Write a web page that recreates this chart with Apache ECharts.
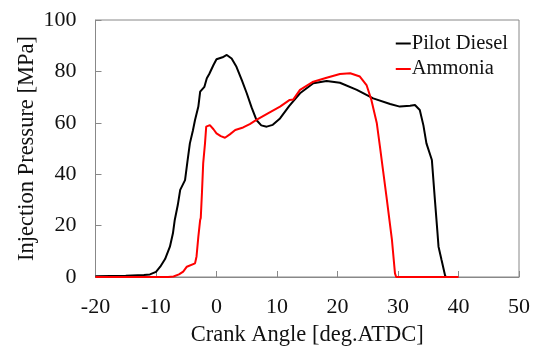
<!DOCTYPE html>
<html>
<head>
<meta charset="utf-8">
<script src="https://cdn.jsdelivr.net/npm/echarts@6/dist/echarts.min.js"></script>
<style>html,body{margin:0;padding:0;background:#fff}#c{width:538px;height:347px}</style>
</head>
<body>
<div id="c"></div>
<script>
const seriesNames = ['Pilot Diesel', 'Ammonia'];
const xTicks = [-20, -10, 0, 10, 20, 30, 40, 50];
const yTicks = [0, 20, 40, 60, 80, 100];
const pilotDiesel = [[-20,0.3],[-15,0.5],[-12,0.8],[-11,1.0],[-10,2],[-9.3,4],[-8.5,7],[-7.7,11.8],[-7.2,17],[-6.9,22.2],[-6.4,28],[-6.0,33.9],[-5.2,37.7],[-4.8,45],[-4.4,52],[-3.9,57],[-3.55,61.1],[-3.0,66.3],[-2.7,72.1],[-2.0,74],[-1.6,77.3],[-1.2,79],[-0.5,82.5],[0,84.7],[1.0,85.5],[1.7,86.4],[2.5,85],[3.3,81.8],[4.2,76.5],[5.0,71.5],[5.8,66],[6.6,61.1],[7.4,59],[8.3,58.5],[9.3,59.2],[10.5,61.7],[12,66.5],[13.8,71.5],[16.0,75.4],[18.2,76.3],[20.4,75.6],[23.2,72.8],[25.9,69.5],[28.7,67.3],[30.3,66.3],[32,66.6],[32.8,66.9],[33.6,65],[34.2,59],[34.7,52],[35.6,45.5],[36.1,30],[36.5,18],[36.7,11.8],[37.2,6.6],[37.8,0.4],[38,0]];
const ammonia = [[-20,0],[-8,0],[-7.1,0.2],[-6.2,1],[-5.5,2.1],[-4.9,4],[-3.55,5.3],[-3.3,8],[-3.0,15.7],[-2.7,22.2],[-2.6,23],[-2.4,33],[-2.2,44.2],[-1.9,52],[-1.7,58.5],[-1.1,59.1],[-0.5,57.5],[0,55.9],[0.7,54.8],[1.4,54.2],[2.2,55.5],[3.1,57.2],[4.4,58.2],[5.5,59.5],[6.6,61.1],[8.5,63.7],[10.5,66.3],[12.1,68.9],[12.7,69.1],[13.8,72.8],[16.0,76],[18.2,77.5],[20.4,79],[22.1,79.3],[23.7,78],[24.8,74.7],[25.6,68.9],[26.5,59.8],[27.0,51],[27.5,42],[28.1,31.2],[29.0,14.4],[29.5,1.4],[29.7,0],[40,0]];

const font = 'Liberation Serif';
const chart = echarts.init(document.getElementById('c'));
chart.setOption({
  animation: false,
  textStyle: { fontFamily: font },
  grid: { left: 95.5, right: 19, top: 20, bottom: 70, show: true, borderColor: '#888', borderWidth: 1, outerBoundsMode: 'none', containLabel: false },
  legend: {
    orient: 'vertical', right: 25, top: 28, itemGap: 4.5,
    icon: 'rect', itemWidth: 15, itemHeight: 2,
    textStyle: { fontFamily: font, fontSize: 20.5, color: '#111', padding: [0,0,0,-4] },
    data: seriesNames
  },
  xAxis: {
    type: 'value', min: xTicks[0], max: xTicks[xTicks.length-1], interval: 10,
    name: 'Crank Angle [deg.ATDC]', nameLocation: 'middle', nameGap: 47, nameMoveOverlap: false,
    nameTextStyle: { fontFamily: font, fontSize: 22.5, color: '#111' },
    axisLine: { onZero: false, lineStyle: { color: '#888' } },
    axisTick: { inside: true, length: 6, lineStyle: { color: '#888' } },
    axisLabel: { fontFamily: font, fontSize: 22, color: '#111', margin: 19 },
    splitLine: { show: false }
  },
  yAxis: {
    type: 'value', min: yTicks[0], max: yTicks[yTicks.length-1], interval: 20,
    name: 'Injection Pressure [MPa]', nameLocation: 'middle', nameGap: 57, nameMoveOverlap: false,
    nameTextStyle: { fontFamily: font, fontSize: 22.5, color: '#111' },
    axisLine: { show: true, onZero: false, lineStyle: { color: '#888' } },
    axisTick: { show: true, inside: true, length: 6, lineStyle: { color: '#888' } },
    axisLabel: { fontFamily: font, fontSize: 22, color: '#111', margin: 19 },
    splitLine: { show: false }
  },
  series: [
    { name: seriesNames[0], type: 'line', data: pilotDiesel, showSymbol: false, symbol: 'none', lineStyle: { color: '#000', width: 2 }, itemStyle: { color: '#000' } },
    { name: seriesNames[1], type: 'line', data: ammonia, showSymbol: false, symbol: 'none', lineStyle: { color: '#ff0000', width: 2 }, itemStyle: { color: '#ff0000' } }
  ]
});
</script>
</body>
</html>
